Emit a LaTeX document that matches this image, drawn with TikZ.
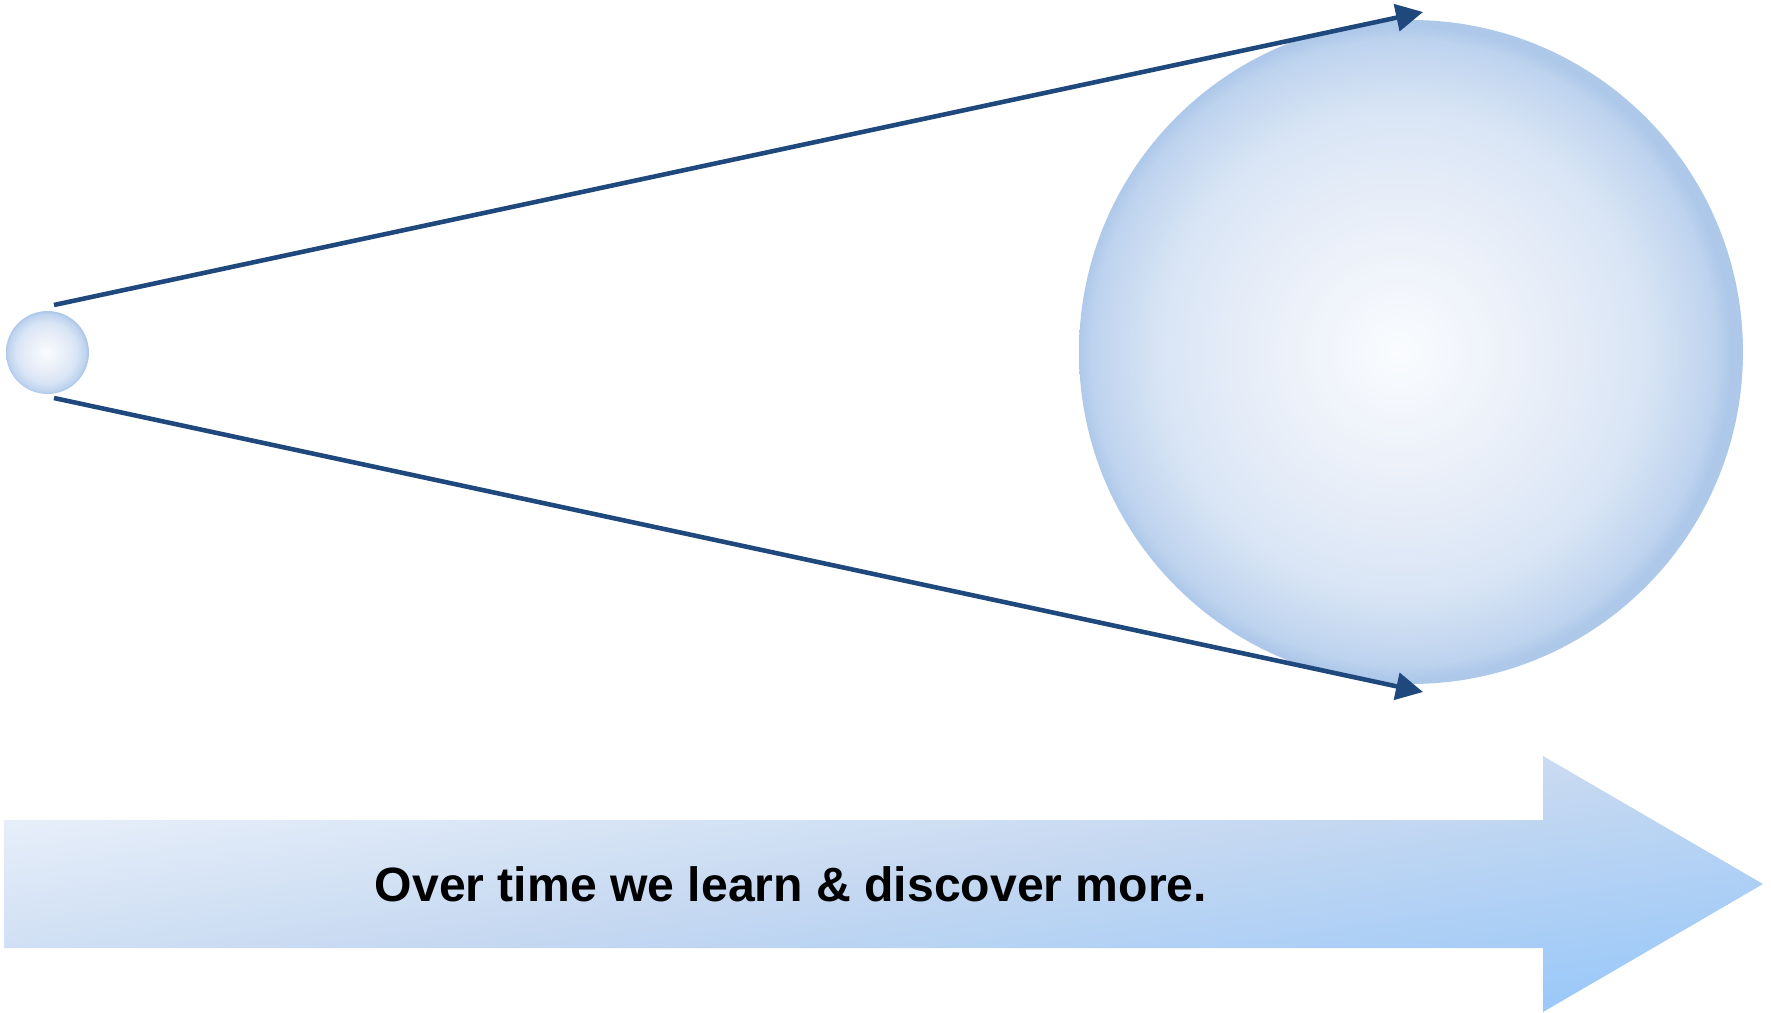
\documentclass[tikz,border=0pt]{standalone}
\usepackage{fontspec}
\setsansfont{Liberation Sans}
\usetikzlibrary{arrows.meta}
\definecolor{lineblue}{HTML}{1F497D}
\definecolor{rimblue}{HTML}{AEC8EA}
\definecolor{bub0}{HTML}{FAFCFE}
\definecolor{bub1}{HTML}{F0F4FB}
\definecolor{bub2}{HTML}{E6EDF8}
\definecolor{bub3}{HTML}{D9E5F5}
\definecolor{bub4}{HTML}{BDD3EE}
\pgfdeclareradialshading{bubble}{\pgfpoint{-1bp}{0bp}}{color(0bp)=(bub0); color(6bp)=(bub1); color(12bp)=(bub2); color(18.2bp)=(bub3); color(23.5bp)=(bub4); color(24.6bp)=(rimblue); color(50bp)=(rimblue)}
% pale top left -> grey blue -> sky blue bottom right
\pgfdeclarefunctionalshading{timeflow}{\pgfpoint{-50bp}{-50bp}}{\pgfpoint{50bp}{50bp}}{}{
  sub 50 add 100 div
  dup 0 lt {pop 0} if dup 1 gt {pop 1} if
  dup 0.5 lt {
    2 mul
    dup -0.1765 mul 0.9490 add exch
    dup -0.1176 mul 0.9647 add exch
    -0.0431 mul 0.9882 add
  }{
    2 mul 1 sub
    dup -0.1922 mul 0.7725 add exch
    dup -0.0706 mul 0.8471 add exch
    0.0353 mul 0.9451 add
  } ifelse
}

\begin{document}
\begin{tikzpicture}
    \useasboundingbox (0,0) rectangle (17.71,10.12);
    % the two bubbles
    \node[circle, minimum size=0.83cm, inner sep=0pt, shade, shading=bubble] (seed) at (0.475,6.595) {};
    \node[circle, minimum size=6.64cm, inner sep=0pt, shade, shading=bubble] (scope) at (14.11,6.60) {};
    \coordinate (seedtop) at (0.54,7.07);
    \coordinate (seedbot) at (0.54,6.14);
    \coordinate (scopetop) at (14.23,10.00);
    \coordinate (scopebot) at (14.23,3.20);
    \draw[lineblue, line width=1.3pt, -{Triangle[length=0.27cm, width=0.27cm]}] (seedtop) -- (scopetop);
    \draw[lineblue, line width=1.3pt, -{Triangle[length=0.27cm, width=0.27cm]}] (seedbot) -- (scopebot);
    % time arrow
    \shade[shading=timeflow]
      (0.04,0.64) -- (15.43,0.64) -- (15.43,0) -- (17.63,1.28) -- (15.43,2.56) -- (15.43,1.92) -- (0.04,1.92) -- cycle;
    \node[font=\sffamily\bfseries\fontsize{13.7}{16}\selectfont] (time) at (7.91,1.28) {Over time we learn \& discover more.};
\end{tikzpicture}
\end{document}
